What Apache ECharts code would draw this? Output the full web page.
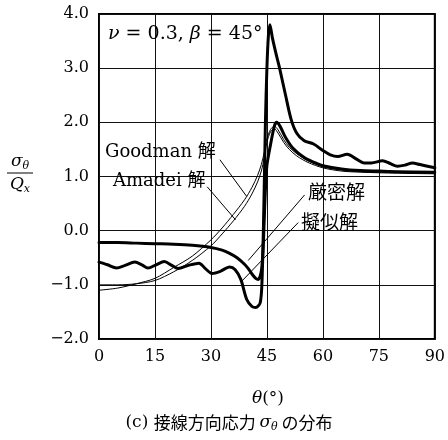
<!DOCTYPE html>
<html>
<head>
<meta charset="utf-8">
<script src="https://cdn.jsdelivr.net/npm/echarts@6/dist/echarts.min.js"></script>
<style>
  html, body { margin: 0; padding: 0; background: #fff; }
  #chart { width: 448px; height: 440px; }
</style>
</head>
<body>
<div id="chart"></div>
<script>
// Tangential stress sigma_theta / Q_x along theta, nu = 0.3, beta = 45 deg
const yTicks = [-2, -1, 0, 1, 2, 3, 4];
const xTicks = [0, 15, 30, 45, 60, 75, 90];

// Goodman solution (thin)
const thetaGoodman = [0, 5, 10, 15, 20, 25, 30, 33, 36, 39, 41, 42.5, 43.5, 44.3, 45, 46, 47, 48, 49.5, 51, 53, 56, 60, 65, 70, 80, 90];
const goodmanVals = [-1.1, -1.06, -0.98, -0.88, -0.68, -0.47, -0.17, 0.05, 0.3, 0.57, 0.8, 1.02, 1.22, 1.45, 1.7, 1.87, 1.93, 1.86, 1.68, 1.54, 1.42, 1.29, 1.18, 1.12, 1.09, 1.07, 1.06];

// Amadei solution (thin)
const thetaAmadei = [0, 5, 10, 15, 20, 25, 30, 33, 36, 39, 41, 42.5, 43.5, 44.3, 45, 46, 47, 48, 49.5, 51, 53, 56, 60, 65, 70, 80, 90];
const amadeiVals = [-1.0, -1.0, -0.98, -0.92, -0.76, -0.55, -0.28, -0.06, 0.18, 0.45, 0.68, 0.9, 1.1, 1.35, 1.63, 1.83, 1.88, 1.8, 1.63, 1.5, 1.38, 1.26, 1.16, 1.1, 1.08, 1.06, 1.05];

// Exact solution (thick, smooth)
const thetaExact = [0, 5, 10, 15, 20, 25, 30, 33, 35, 37, 39, 40, 41, 42, 42.7, 43.5, 44, 44.5, 45, 46, 47, 47.6, 48.5, 50, 52, 55, 58, 60, 65, 70, 75, 80, 90];
const exactVals = [-0.22, -0.22, -0.23, -0.24, -0.25, -0.27, -0.31, -0.36, -0.42, -0.5, -0.62, -0.7, -0.8, -0.88, -0.9, -0.75, -0.3, 0.6, 1.2, 1.6, 1.93, 2.0, 1.93, 1.72, 1.52, 1.35, 1.25, 1.2, 1.14, 1.11, 1.1, 1.09, 1.08];

// Approximate solution (thick, wavy)
const thetaApprox = [0, 2.3, 4.7, 7, 9.6, 11.5, 13.1, 15.3, 17.5, 19.5, 21.2, 24, 26.8, 28.5, 30.3, 32.5, 35, 36.5, 38, 39.6, 41, 42, 43.2, 43.7, 44.2, 44.6, 45, 45.4, 45.8, 46.5, 47.5, 48.4, 50, 51.5, 53, 55, 57.5, 60, 62, 64, 66.5, 69, 71, 73, 76, 78, 80, 82, 84, 86, 90];
const approxVals = [-0.58, -0.63, -0.69, -0.64, -0.58, -0.63, -0.69, -0.63, -0.57, -0.64, -0.7, -0.64, -0.6, -0.7, -0.79, -0.75, -0.67, -0.72, -0.9, -1.27, -1.4, -1.42, -1.33, -0.9, 0.5, 2.0, 3.0, 3.6, 3.8, 3.55, 3.25, 3.0, 2.5, 2.05, 1.8, 1.66, 1.6, 1.48, 1.4, 1.37, 1.41, 1.32, 1.25, 1.25, 1.29, 1.24, 1.19, 1.21, 1.25, 1.22, 1.16];

// Leader lines: [labelEnd, curveEnd] in data coordinates
const leaders = [
  [[32.4, 1.31], [39.6, 0.63]],
  [[29.0, 0.81], [36.6, 0.2]],
  [[55.1, 0.66], [40.0, -0.55]],
  [[53.4, 0.15], [38.3, -0.93]]
];

const SERIF = '"DejaVu Serif", "Noto Sans CJK JP", serif';
const pairs = (xs, ys) => xs.map((x, i) => [x, ys[i]]);
const fmtY = v => (v < 0 ? '\u2212' : '') + Math.abs(v).toFixed(1);

const chart = echarts.init(document.getElementById('chart'), null, { renderer: 'canvas' });

function lineSeries(name, xs, ys, width) {
  return {
    name, type: 'line', data: pairs(xs, ys),
    showSymbol: false, smooth: 0.3,
    lineStyle: { color: '#000', width: width, join: 'round', cap: 'round' },
    z: width > 2 ? 4 : 3, animation: false
  };
}

chart.setOption({
  animation: false,
  backgroundColor: '#fff',
  grid: { left: 99, right: 10, top: 14, bottom: 101, show: true, borderColor: '#000', borderWidth: 2, backgroundColor: 'transparent' },
  xAxis: {
    type: 'value', min: 0, max: 90, interval: 15,
    axisLine: { show: false }, axisTick: { show: false },
    splitLine: { show: true, lineStyle: { color: '#111', width: 1 } },
    axisLabel: { margin: 10, color: '#000', fontFamily: SERIF, fontSize: 16,
      formatter: v => xTicks.includes(v) ? String(v) : '' }
  },
  yAxis: {
    type: 'value', min: -2, max: 4, interval: 1,
    axisLine: { show: false }, axisTick: { show: false },
    splitLine: { show: true, lineStyle: { color: '#111', width: 1 } },
    axisLabel: { margin: 10, color: '#000', fontFamily: SERIF, fontSize: 16,
      formatter: v => yTicks.includes(v) ? fmtY(v) : '' }
  },
  series: [
    lineSeries('Goodman', thetaGoodman, goodmanVals, 1),
    lineSeries('Amadei', thetaAmadei, amadeiVals, 1),
    lineSeries('exact', thetaExact, exactVals, 3),
    lineSeries('approx', thetaApprox, approxVals, 3)
  ]
});

function drawAnnotations() {
  const lines = leaders.map(([a, b]) => {
    const p = chart.convertToPixel({ gridIndex: 0 }, a);
    const q = chart.convertToPixel({ gridIndex: 0 }, b);
    return { type: 'line', shape: { x1: p[0], y1: p[1], x2: q[0], y2: q[1] },
      style: { stroke: '#000', lineWidth: 1 }, z: 10 };
  });
  const txt = (x, y, text, size, extra) => Object.assign({
    type: 'text', x, y, z: 20,
    style: Object.assign({ text, fill: '#000', font: size + 'px ' + SERIF,
      textVerticalAlign: 'middle' }, extra || {})
  });
  const richIt = {
    it: { fontFamily: SERIF, fontStyle: 'italic', fontSize: 17, fill: '#000' },
    n: { fontFamily: SERIF, fontSize: 17, fill: '#000' },
    it2: { fontFamily: SERIF, fontStyle: 'italic', fontSize: 19, fill: '#000' },
    n2: { fontFamily: SERIF, fontSize: 19, fill: '#000' },
    sub: { fontFamily: SERIF, fontStyle: 'italic', fontSize: 11, fill: '#000', verticalAlign: 'bottom', padding: [8, 0, 0, 0] },
    cj: { fontFamily: '"Noto Sans CJK JP", sans-serif', fontSize: 17, fill: '#000' }
  };
  chart.setOption({
    graphic: [
      ...lines,
      // plot parameters
      { type: 'text', x: 108, y: 34, z: 20,
        style: { text: '{it2|\u03bd}{n2| = 0.3, }{it2|\u03b2}{n2| = 45\u00b0}', rich: richIt, verticalAlign: 'middle' } },
      // curve labels
      txt(105, 152, 'Goodman \u89e3', 18),
      txt(113, 181, 'Amadei \u89e3', 18),
      txt(308, 192, '\u53b3\u5bc6\u89e3', 19, { font: '19px "Noto Sans CJK JP", sans-serif' }),
      txt(301, 222, '\u64ec\u4f3c\u89e3', 19, { font: '19px "Noto Sans CJK JP", sans-serif' }),
      // y-axis name as a fraction
      { type: 'text', x: 20, y: 162, z: 20,
        style: { text: '{it|\u03c3}{sub|\u03b8}', rich: richIt, align: 'center', verticalAlign: 'middle' } },
      { type: 'line', shape: { x1: 7, y1: 173, x2: 33, y2: 173 }, style: { stroke: '#000', lineWidth: 1 }, z: 20 },
      { type: 'text', x: 20, y: 185, z: 20,
        style: { text: '{it|Q}{sub|x}', rich: richIt, align: 'center', verticalAlign: 'middle' } },
      // x-axis name
      { type: 'text', x: 268, y: 399, z: 20,
        style: { text: '{it|\u03b8}{n|(\u00b0)}', rich: richIt, align: 'center', verticalAlign: 'middle' } },
      // caption
      { type: 'text', x: 229, y: 423, z: 20,
        style: { text: '{n|(c) }{cj|\u63a5\u7dda\u65b9\u5411\u5fdc\u529b }{it|\u03c3}{sub|\u03b8}{cj| \u306e\u5206\u5e03}', rich: richIt, align: 'center', verticalAlign: 'middle' } }
    ]
  });
}
drawAnnotations();
</script>
</body>
</html>
